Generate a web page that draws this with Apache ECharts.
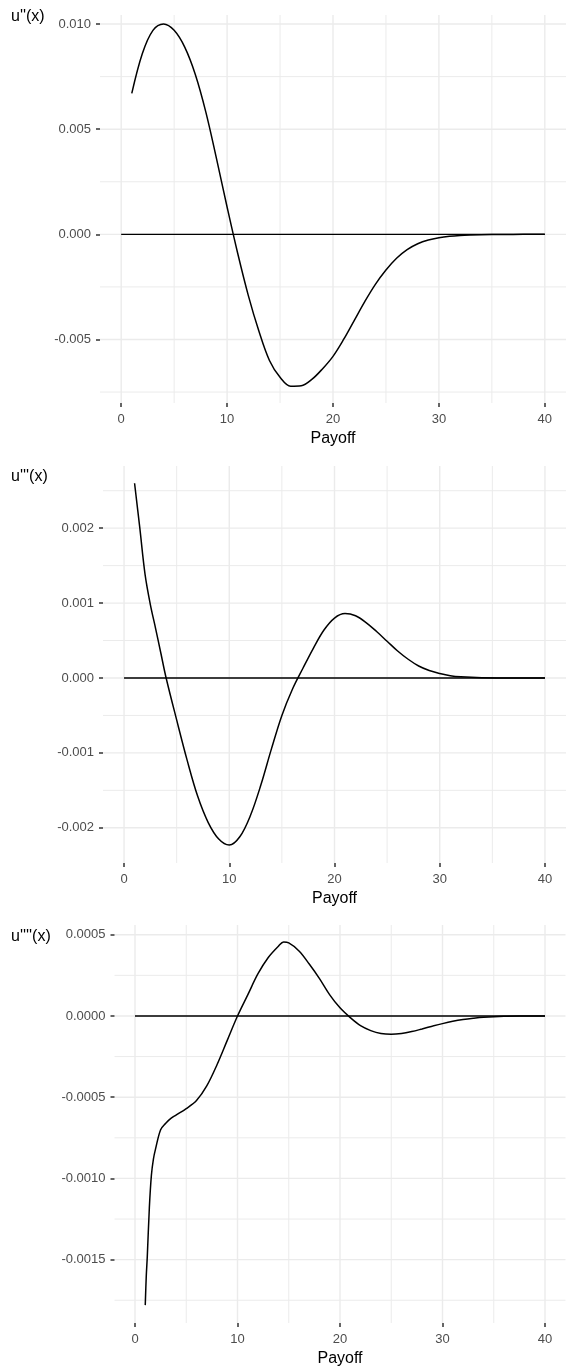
<!DOCTYPE html>
<html>
<head>
<meta charset="utf-8">
<script src="https://cdn.jsdelivr.net/npm/echarts@6/dist/echarts.min.js"></script>
<style>
html,body{margin:0;padding:0;background:#fff;}
#chart{width:567px;height:1370px;}
</style>
</head>
<body>
<div id="chart"></div>
<script>
// ---- data ----
var xTicks = [0, 10, 20, 30, 40];
var xMinor = [5, 15, 25, 35];
var zeroX = [0, 40];
var zeroY = [0, 0];

var payoff1 = [1, 2, 3, 4, 5, 6, 7, 8, 9, 10, 11, 12, 13, 14, 15, 16, 17, 18, 19, 20, 21, 22, 23, 24, 25, 26, 27, 28, 29, 30, 31, 32, 33, 34, 36, 38, 40];
var u2 = [0.0067, 0.0086, 0.0097, 0.0100, 0.0097, 0.0089, 0.0076, 0.0058, 0.0036, 0.0013, -0.0009, -0.0029, -0.0046, -0.0060, -0.0068, -0.00722, -0.0072, -0.0069, -0.0064, -0.0058, -0.0050, -0.0041, -0.0032, -0.00238, -0.0017, -0.00114, -0.00073, -0.00045, -0.00027, -0.00016, -0.00009, -0.00005, -0.000028, -0.000015, -0.000004, -0.000001, 0];
var yTicks1 = [-0.005, 0, 0.005, 0.010];
var yMinor1 = [-0.0075, -0.0025, 0.0025, 0.0075];

var payoff2 = [1, 1.5, 2, 2.5, 3, 3.5, 4, 5, 6, 7, 8, 9, 10, 11, 12, 13, 14, 15, 16, 17, 18, 19, 20, 21, 22, 23, 24, 25, 26, 27, 28, 29, 30, 31, 32, 34, 36, 38, 40];
var u3 = [0.0026, 0.0020, 0.00138, 0.00098, 0.00066, 0.00033, 0.0000, -0.00056, -0.0011, -0.00158, -0.00193, -0.00215, -0.00223, -0.00212, -0.00184, -0.00143, -0.00095, -0.0005, -0.00015, 0.00013, 0.0004, 0.00064, 0.0008, 0.00086, 0.00083, 0.00074, 0.00062, 0.00049, 0.00036, 0.00025, 0.00016, 0.0001, 0.00006, 0.00003, 0.000015, 0.000003, 0.000001, 0, 0];
var yTicks2 = [-0.002, -0.001, 0, 0.001, 0.002];
var yMinor2 = [-0.0015, -0.0005, 0.0005, 0.0015, 0.0025];

var payoff3 = [1, 1.1, 1.2, 1.4, 1.6, 1.8, 2, 2.5, 3, 3.5, 4, 5, 6, 7, 8, 9, 10, 11, 12, 13, 14, 14.5, 15, 16, 17, 18, 19, 20, 21, 22, 23, 24, 25, 26, 27, 28, 29, 30, 31, 32, 33, 34, 36, 38, 40];
var u4 = [-0.00178, -0.0016, -0.00148, -0.00118, -0.00098, -0.00088, -0.00082, -0.0007, -0.00066, -0.00063, -0.00061, -0.00057, -0.00052, -0.00043, -0.0003, -0.00015, 0.0000, 0.00013, 0.00026, 0.00036, 0.00043, 0.000455, 0.00045, 0.00040, 0.00032, 0.00023, 0.00013, 0.00005, -0.00001, -0.00006, -0.00009, -0.000108, -0.000113, -0.000108, -0.000096, -0.00008, -0.000063, -0.000047, -0.000033, -0.000022, -0.000014, -0.000008, -0.000002, -0.0000005, 0];
var yTicks3 = [-0.0015, -0.001, -0.0005, 0, 0.0005];
var yMinor3 = [-0.00175, -0.00125, -0.00075, -0.00025, 0.00025];

var titles = ["u''(x)", "u'''(x)", "u''''(x)"];
var xName = 'Payoff';

// ---- layout ----
var FONT = 'Liberation Sans, Arial, sans-serif';
var GRID_COL = '#EBEBEB';
var grids = [
  {left: 100, top: 15, width: 466, height: 388},
  {left: 103, top: 466, width: 463, height: 397},
  {left: 114.5, top: 925, width: 451, height: 398}
];
var yRanges = [[-0.00802, 0.01043], [-0.00247, 0.00283], [-0.00189, 0.00056]];
var yTickSets = [yTicks1, yTicks2, yTicks3];
var yMinorSets = [yMinor1, yMinor2, yMinor3];
var yDigits = [3, 3, 4];
var titleTops = [9, 469, 929];
var curves = [[payoff1, u2], [payoff2, u3], [payoff3, u4]];

function zip(a, b) { return a.map(function (v, i) { return [v, b[i]]; }); }
function flagged(major, minor) {
  return major.map(function (v) { return [v, 1]; }).concat(minor.map(function (v) { return [v, 0]; }));
}

var xAxes = [], yAxes = [], series = [], titleOpts = [];
for (var i = 0; i < 3; i++) {
  (function (i) {
    xAxes.push({
      type: 'value', gridIndex: i, min: -2, max: 42,
      axisLine: {show: false, onZero: false},
      axisTick: {show: true, customValues: xTicks, length: 4, lineStyle: {color: '#333333', width: 1.5}},
      axisLabel: {customValues: xTicks, color: '#4D4D4D', fontSize: 13, fontFamily: FONT, margin: 10},
      splitLine: {show: false},
      name: xName, nameLocation: 'middle', nameGap: 28,
      nameTextStyle: {color: '#000', fontSize: 16, fontFamily: FONT}
    });
    var d = yDigits[i];
    yAxes.push({
      type: 'value', gridIndex: i, min: yRanges[i][0], max: yRanges[i][1],
      axisLine: {show: false, onZero: false},
      axisTick: {show: true, customValues: yTickSets[i], length: 4, lineStyle: {color: '#333333', width: 1.5}},
      axisLabel: {customValues: yTickSets[i], color: '#4D4D4D', fontSize: 13, fontFamily: FONT, margin: 9,
        formatter: function (v) { var s = Number(v).toFixed(d); if (/^-0\.0+$/.test(s)) s = s.slice(1); return s; }},
      splitLine: {show: false}
    });
    series.push({
      type: 'custom', xAxisIndex: i, yAxisIndex: i, z: 0, silent: true, clip: false,
      data: flagged(xTicks, xMinor).map(function (p) { return [p[0], yRanges[i][0], p[1]]; }),
      encode: {x: 0, y: 1},
      renderItem: function (params, api) {
        var v = api.value(0), major = api.value(2), cs = params.coordSys;
        var px = api.coord([v, yRanges[i][0]])[0];
        return {type: 'line', shape: {x1: px, y1: cs.y, x2: px, y2: cs.y + cs.height}, silent: true,
          style: {stroke: GRID_COL, lineWidth: major ? 1.4 : 1.0}};
      }
    });
    series.push({
      type: 'custom', xAxisIndex: i, yAxisIndex: i, z: 0, silent: true, clip: false,
      data: flagged(yTickSets[i], yMinorSets[i]).map(function (p) { return [0, p[0], p[1]]; }),
      encode: {x: 0, y: 1},
      renderItem: function (params, api) {
        var v = api.value(1), major = api.value(2), cs = params.coordSys;
        var py = api.coord([0, v])[1];
        return {type: 'line', shape: {x1: cs.x, y1: py, x2: cs.x + cs.width, y2: py}, silent: true,
          style: {stroke: GRID_COL, lineWidth: major ? 1.4 : 1.0}};
      }
    });
    series.push({
      type: 'line', xAxisIndex: i, yAxisIndex: i, data: zip(zeroX, zeroY),
      showSymbol: false, symbol: 'none', lineStyle: {color: '#000', width: 1.4}, z: 2, silent: true
    });
    series.push({
      type: 'line', xAxisIndex: i, yAxisIndex: i, data: zip(curves[i][0], curves[i][1]),
      showSymbol: false, symbol: 'none', smooth: 0.35, lineStyle: {color: '#000', width: 1.5}, z: 3, silent: true
    });
    titleOpts.push({text: titles[i], left: 11, top: titleTops[i], padding: 0,
      textStyle: {color: '#000', fontSize: 16, fontWeight: 'normal', fontFamily: FONT}});
  })(i);
}

var chart = echarts.init(document.getElementById('chart'), null, {renderer: 'canvas'});
chart.setOption({
  animation: false,
  backgroundColor: '#ffffff',
  title: titleOpts,
  grid: grids,
  xAxis: xAxes,
  yAxis: yAxes,
  series: series
});
</script>
</body>
</html>
